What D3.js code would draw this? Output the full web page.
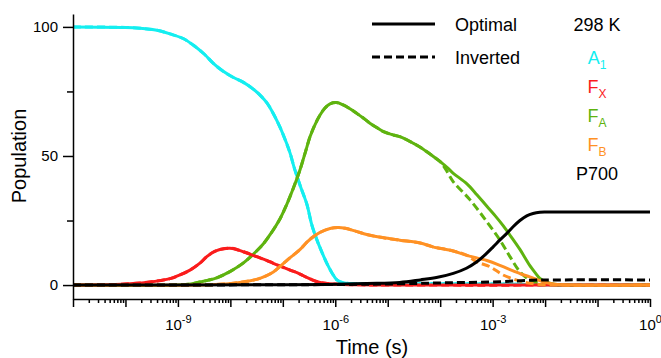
<!DOCTYPE html>
<html>
<head>
<meta charset="utf-8">
<script src="https://cdn.jsdelivr.net/npm/d3@7"></script>
<style>
  body { margin: 0; background: #fff; }
  svg { font-family: "Liberation Sans", Arial, sans-serif; }
  .axis path, .axis line { stroke: #000; stroke-width: 1.5; }
  .axis text { fill: #000; }
  .curve { fill: none; stroke-width: 3; }
</style>
</head>
<body>
<svg id="chart" width="661" height="358"></svg>
<script>
// points are [log10(time / s), population]
var a1Opt = [[-11,100],[-10,99.8],[-9.72,99.5],[-9.4,98.7],[-9.15,97.3],[-8.9,95.5],[-8.71,93],[-8.5,89.5],
  [-8.33,86],[-8.15,83],[-7.95,80.5],[-7.75,78.5],[-7.57,76],[-7.43,73.5],[-7.3,70.5],[-7.17,66],[-7.05,61],
  [-6.93,55],[-6.86,51],[-6.77,44.6],[-6.66,38],[-6.54,31.2],[-6.45,23.5],[-6.35,17.5],[-6.25,12.5],[-6.16,8.4],
  [-6.06,4.6],[-5.97,2],[-5.85,0.9],[-5.7,0.6],[-5.4,0.5],[-4,0.5],[-2.8,0.4],[-2.2,0.2],[-1.7,0],[0,0]];
var fxOpt = [[-11,0],[-10.2,0.2],[-9.91,0.5],[-9.53,1.2],[-9.15,2.5],[-8.95,4],[-8.77,5.8],[-8.58,8.5],[-8.45,11],
  [-8.33,12.7],[-8.2,13.8],[-8.01,14.3],[-7.88,13.8],[-7.75,12.9],[-7.5,11],[-7.31,9.6],[-7.18,8.4],[-7.02,7.1],
  [-6.86,5.8],[-6.73,4.8],[-6.61,3.6],[-6.45,2.1],[-6.29,1],[-6.04,0.4],[-5.53,0.1],[-4.77,0],[0,0]];
var faOpt = [[-11,0],[-9,0],[-8.75,0.4],[-8.58,1.2],[-8.42,1.9],[-8.26,2.8],[-8.01,5.2],[-7.75,8.6],[-7.5,13.2],
  [-7.37,16],[-7.24,19.6],[-7.05,25.8],[-6.93,31],[-6.8,37.5],[-6.67,44.8],[-6.57,51.5],[-6.48,57.5],[-6.39,62],
  [-6.29,65.9],[-6.2,68.5],[-6.1,70.2],[-5.98,70.7],[-5.85,69.8],[-5.72,68.3],[-5.59,66.5],[-5.46,64.6],[-5.34,62.7],
  [-5.21,61],[-5.08,59.4],[-4.92,58.3],[-4.77,57.5],[-4.64,56.3],[-4.51,54.9],[-4.38,53.4],[-4.26,51.7],[-4.13,49.8],
  [-4,47.8],[-3.87,45.6],[-3.75,43.3],[-3.49,39.2],[-3.3,35],[-3.11,30.5],[-2.95,26.8],[-2.8,23],[-2.64,18.5],
  [-2.48,13.8],[-2.38,10.5],[-2.29,7.5],[-2.19,4.8],[-2.1,2.6],[-2,1.4],[-1.91,0.7],[-1.72,0.1],[0,0]];
var faInvTail = [[-3.9,45],[-3.75,40],[-3.43,33],[-3.11,24.5],[-2.86,17.4],[-2.67,11],[-2.48,5.2],[-2.29,1.9],
  [-2.16,1],[-1.91,0.2],[0,0]];
var fbOpt = [[-11,0],[-8.6,0],[-8.2,0.3],[-7.82,1],[-7.5,2.2],[-7.34,3.4],[-7.18,5.1],[-7.02,7.8],[-6.86,10.6],
  [-6.67,13.8],[-6.54,16.6],[-6.42,18.7],[-6.29,20.4],[-6.1,21.9],[-5.95,22.3],[-5.81,22],[-5.6,20.8],[-5.4,19.6],
  [-5.1,18.4],[-4.77,17.4],[-4.38,16.3],[-4.14,14.8],[-3.75,13.2],[-3.49,11.5],[-3.11,9.5],[-2.85,7.5],
  [-2.61,5.5],[-2.45,4.2],[-2.29,3.2],[-2.04,1.3],[-1.81,0.3],[-1.5,0],[0,0]];
var fbInvTail = [[-3.3,9],[-3.05,7.1],[-2.8,3.9],[-2.54,1.9],[-2.35,0.9],[-2.1,0.2],[-1.8,0],[0,0]];
var p700Opt = [[-11,0],[-7,0.1],[-6,0.3],[-5.4,0.6],[-4.77,1],[-4.38,2],[-4.05,3],[-3.75,4.5],[-3.5,6.5],[-3.3,9],
  [-3.14,11.8],[-2.99,14.8],[-2.86,17.5],[-2.73,20],[-2.61,22.6],[-2.48,25],[-2.35,26.8],[-2.23,27.7],[-2.1,28.2],
  [-1.97,28.3],[0,28.3]];
var p700Inv = [[-11,0],[-6,0.2],[-4.77,0.5],[-3.81,0.9],[-2.86,1.3],[-2.23,1.9],[-1.71,2],[0,2]];

var yMajor = [0, 50, 100];
var yMinor = [25, 75];
var xLabelExps = [-9, -6, -3, 0];

var species = ["A1", "FX", "FA", "FB", "P700"];
var colors = {A1: "#14eef0", FX: "#fa1c1c", FA: "#5eb30f", FB: "#ff9124", P700: "#000"};

var faInv = faOpt.filter(function(d) { return d[0] < faInvTail[0][0]; }).concat(faInvTail);
var fbInv = fbOpt.filter(function(d) { return d[0] < fbInvTail[0][0]; }).concat(fbInvTail);

var series = [
  {key: "A1", dash: true, pts: a1Opt},
  {key: "FX", dash: true, pts: fxOpt},
  {key: "A1", dash: false, pts: a1Opt},
  {key: "FA", dash: true, pts: faInv},
  {key: "FA", dash: false, pts: faOpt},
  {key: "FX", dash: false, pts: fxOpt},
  {key: "FB", dash: true, pts: fbInv},
  {key: "FB", dash: false, pts: fbOpt},
  {key: "P700", dash: true, pts: p700Inv},
  {key: "P700", dash: false, pts: p700Opt}
];

var svg = d3.select("#chart");

var x = d3.scaleLog().domain([1e-11, 1]).range([73, 650]);
var y = d3.scaleLinear().domain([-5.4, 105]).range([299, 14]);

var line = d3.line()
  .x(function(d) { return x(Math.pow(10, d[0])); })
  .y(function(d) { return y(d[1]); })
  .curve(d3.curveCatmullRom.alpha(0.5));

svg.append("g").selectAll("path")
  .data(series)
  .enter().append("path")
    .attr("class", "curve")
    .attr("d", function(d) { return line(d.pts); })
    .attr("stroke", function(d) { return colors[d.key]; })
    .attr("stroke-dasharray", function(d) { return d.dash ? "8,4" : null; });

// y axis
var yAxis = svg.append("g")
  .attr("class", "axis")
  .attr("transform", "translate(73,0)")
  .call(d3.axisLeft(y).tickValues(yMajor.concat(yMinor)).tickSize(10).tickPadding(5).tickSizeOuter(0)
    .tickFormat(function(d) { return yMajor.indexOf(d) >= 0 ? d : ""; }));
yAxis.selectAll(".tick line").attr("x2", function(d) { return yMajor.indexOf(d) >= 0 ? -10 : -6; });
yAxis.selectAll("text").style("font-size", "15px");

// x axis, one major tick per decade and minor ones between
var xAxis = svg.append("g")
  .attr("class", "axis")
  .attr("transform", "translate(0,299)")
  .call(d3.axisBottom(x).tickValues(x.ticks(30)).tickSize(8).tickSizeOuter(0));

function isDecade(d) {
  var e = Math.log10(d);
  return Math.abs(e - Math.round(e)) < 1e-6;
}
xAxis.selectAll(".tick line").attr("y2", function(d) { return isDecade(d) ? 8 : 4; });
xAxis.selectAll(".tick text").each(function(d) {
  var t = d3.select(this).text(null).attr("y", 31).attr("dy", 0).style("font-size", "15px");
  var e = Math.round(Math.log10(d));
  if (!isDecade(d) || xLabelExps.indexOf(e) < 0) return;
  t.append("tspan").text("10");
  t.append("tspan").attr("dy", -7).style("font-size", "11px").text(e);
});

svg.append("text")
  .attr("transform", "translate(26,156) rotate(-90)")
  .attr("text-anchor", "middle")
  .style("font-size", "20px")
  .text("Population");

svg.append("text")
  .attr("x", 372).attr("y", 354)
  .attr("text-anchor", "middle")
  .style("font-size", "20px")
  .text("Time (s)");

// legend
var legend = svg.append("g").style("font-size", "18px");
[["Optimal", null, 24, 31], ["Inverted", "8,4", 57, 64]].forEach(function(r) {
  legend.append("line")
    .attr("x1", 372).attr("x2", 435).attr("y1", r[2]).attr("y2", r[2])
    .attr("stroke", "#000").attr("stroke-width", 3)
    .attr("stroke-dasharray", r[1]);
  legend.append("text").attr("x", 455).attr("y", r[3]).text(r[0]);
});

legend.append("text").attr("x", 597).attr("y", 31).attr("text-anchor", "middle").text("298 K");

var labels = {A1: ["A", "1"], FX: ["F", "X"], FA: ["F", "A"], FB: ["F", "B"], P700: ["P700", ""]};
species.forEach(function(s, i) {
  var t = legend.append("text")
    .attr("x", 597).attr("y", 64 + i * 29)
    .attr("text-anchor", "middle")
    .attr("fill", colors[s]);
  t.append("tspan").text(labels[s][0]);
  if (labels[s][1]) t.append("tspan").attr("dy", 5).style("font-size", "12px").text(labels[s][1]);
});
</script>
</body>
</html>
